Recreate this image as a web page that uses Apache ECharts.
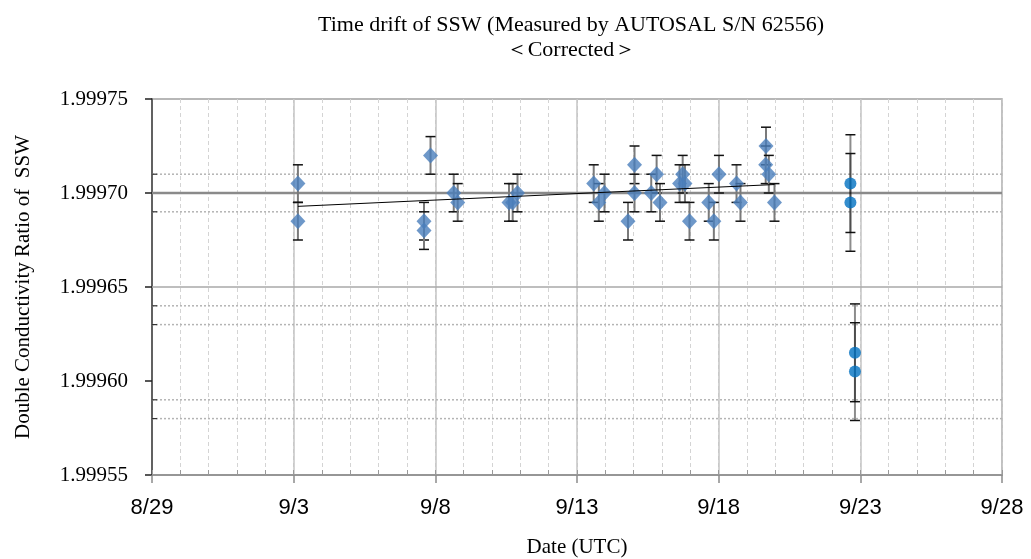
<!DOCTYPE html>
<html>
<head>
<meta charset="utf-8">
<script src="https://cdn.jsdelivr.net/npm/echarts@6/dist/echarts.min.js"></script>
<style>html,body{margin:0;padding:0;background:#fff;}#chart{width:1031px;height:559px;}</style>
</head>
<body>
<div id="chart"></div>
<script>
// x = days since 8/29 00:00 (UTC)
const xTickLabels = ['8/29', '9/3', '9/8', '9/13', '9/18', '9/23', '9/28'];
const yTickMin = 1.99955, yTickMax = 1.99975, yTickStep = 0.00005;

// Diamond series (measured SSW)
const diamondX = [5.15, 5.15, 9.60, 9.60, 9.83, 10.65, 10.79, 12.60, 12.73, 12.90,
  15.59, 15.77, 15.97, 16.80, 17.03, 17.03, 17.62, 17.81, 17.93, 18.62,
  18.73, 18.81, 18.97, 19.65, 19.83, 20.01, 20.63, 20.77, 21.67, 21.66, 21.77, 21.97];
const diamondY = [1.999705, 1.999685, 1.999685, 1.999680, 1.999720, 1.999700, 1.999695, 1.999695, 1.999695, 1.999700,
  1.999705, 1.999695, 1.999700, 1.999685, 1.999715, 1.999700, 1.999700, 1.999710, 1.999695, 1.999705,
  1.999710, 1.999705, 1.999685, 1.999695, 1.999685, 1.999710, 1.999705, 1.999695, 1.999725, 1.999715, 1.999710, 1.999695];
const diamondErr = 0.00001;

// Circle series
const circleX = [24.65, 24.65, 24.81, 24.81];
const circleY = [1.999705, 1.999695, 1.999615, 1.999605];
const circleErr = 0.000026;

// Linear trend of the diamond series (end points)
const trendX = [5.15, 21.97];
const trendY = [1.9996929, 1.9997045];

// Horizontal reference lines
const mainRefLine = [1.99970];
const solidRefLines = [1.99965];
const dottedRefLines = [1.99971, 1.99969, 1.99964, 1.99963, 1.99959, 1.99958];

const serif = '"Liberation Serif", "Times New Roman", serif';
const sans = '"Liberation Sans", Arial, sans-serif';

function makeErrRender(lineColor, lineWidth) {
  return function (params, api) {
    const x = api.value(0), y = api.value(1), e = api.value(2);
    const t = api.coord([x, y + e]);
    const b = api.coord([x, y - e]);
    const hw = 5;
    return {
      type: 'group',
      children: [
        { type: 'line', shape: { x1: t[0], y1: t[1], x2: b[0], y2: b[1] }, style: { stroke: lineColor, lineWidth: lineWidth } },
        { type: 'line', shape: { x1: t[0] - hw, y1: t[1], x2: t[0] + hw, y2: t[1] }, style: { stroke: '#111', lineWidth: 1.5 } },
        { type: 'line', shape: { x1: b[0] - hw, y1: b[1], x2: b[0] + hw, y2: b[1] }, style: { stroke: '#111', lineWidth: 1.5 } }
      ]
    };
  };
}

function makeHLineRender(style, tick) {
  return function (params, api) {
    const p = api.coord([0, api.value(1)]);
    const cs = params.coordSys;
    const children = [
      { type: 'line', shape: { x1: cs.x, y1: p[1], x2: cs.x + cs.width, y2: p[1] }, style: style }
    ];
    if (tick) {
      children.push({ type: 'line', shape: { x1: cs.x, y1: p[1], x2: cs.x + 5, y2: p[1] }, style: { stroke: '#333', lineWidth: 1.2 } });
    }
    return { type: 'group', children: children };
  };
}

const chart = echarts.init(document.getElementById('chart'), null, { renderer: 'canvas' });

chart.setOption({
  animation: false,
  backgroundColor: '#fff',
  grid: { left: 152, right: 29, top: 99, bottom: 84, show: true, borderColor: '#a0a0a0', borderWidth: 1.5,
    backgroundColor: 'transparent', containLabel: false, outerBoundsMode: 'none' },
  graphic: [
    { type: 'text', x: 571, y: 25, style: { text: 'Time drift of SSW (Measured by AUTOSAL S/N 62556)', font: '22px ' + serif, fill: '#000', textAlign: 'center', textVerticalAlign: 'middle' } },
    { type: 'text', x: 571, y: 50, style: { text: '＜Corrected＞', font: '22px ' + serif, fill: '#000', textAlign: 'center', textVerticalAlign: 'middle' } }
  ],
  xAxis: [
    {
      type: 'value', min: 0, max: 30, interval: 1,
      axisLine: { show: true, lineStyle: { color: '#8c8c8c', width: 1.5 } },
      axisTick: { show: true, inside: true, length: 5, lineStyle: { color: '#999' } },
      axisLabel: { show: false },
      splitLine: { show: true, lineStyle: { color: '#d4d4d4', type: [4, 3], width: 1 } }
    },
    {
      type: 'value', min: 0, max: 30, interval: 5, position: 'bottom',
      axisLine: { show: false },
      axisTick: { show: true, inside: false, length: 8, lineStyle: { color: '#8c8c8c', width: 1.5 } },
      axisLabel: { show: true, margin: 22, color: '#000', fontFamily: sans, fontSize: 22,
        formatter: v => xTickLabels[Math.round(v / 5)] },
      splitLine: { show: true, lineStyle: { color: '#c4c4c4', width: 1.5 } },
      name: 'Date (UTC)', nameLocation: 'middle', nameGap: 62,
      nameTextStyle: { fontFamily: serif, fontSize: 21, color: '#000' }
    }
  ],
  yAxis: {
    type: 'value', min: yTickMin, max: yTickMax, interval: yTickStep,
    axisLine: { show: true, lineStyle: { color: '#404040', width: 1.5 } },
    axisTick: { show: true, inside: false, length: 7, lineStyle: { color: '#202020', width: 1.5 } },
    axisLabel: { margin: 24, color: '#000', fontFamily: serif, fontSize: 21, formatter: v => v.toFixed(5) },
    splitLine: { show: false },
    name: 'Double Conductivity Ratio of  SSW', nameLocation: 'middle', nameGap: 118,
    nameTextStyle: { fontFamily: serif, fontSize: 21, color: '#000' }
  },
  series: [
    {
      type: 'custom', xAxisIndex: 0, renderItem: makeHLineRender({ stroke: '#b4b4b4', lineWidth: 1.5, lineDash: [2, 2] }, true),
      encode: { x: 0, y: 1 }, data: dottedRefLines.map(v => [0, v]), z: 1, silent: true
    },
    {
      type: 'custom', xAxisIndex: 0, renderItem: makeHLineRender({ stroke: '#a8a8a8', lineWidth: 1.5 }, false),
      encode: { x: 0, y: 1 }, data: solidRefLines.map(v => [0, v]), z: 1, silent: true
    },
    {
      type: 'custom', xAxisIndex: 0, renderItem: makeHLineRender({ stroke: '#8a8a8a', lineWidth: 2.5 }, false),
      encode: { x: 0, y: 1 }, data: mainRefLine.map(v => [0, v]), z: 1, silent: true
    },
    {
      type: 'custom', xAxisIndex: 0, renderItem: makeErrRender('#7a7a7a', 2), encode: { x: 0, y: 1 },
      data: diamondX.map((x, i) => [x, diamondY[i], diamondErr]), z: 3, clip: false
    },
    {
      type: 'custom', xAxisIndex: 0, renderItem: makeErrRender('rgba(0,0,0,0.45)', 2), encode: { x: 0, y: 1 },
      data: circleX.map((x, i) => [x, circleY[i], circleErr]), z: 3, clip: false
    },
    {
      type: 'scatter', xAxisIndex: 0, symbol: 'diamond', symbolSize: [15, 16],
      itemStyle: { color: '#4A7EBB' }, z: 5,
      data: diamondX.map((x, i) => [x, diamondY[i]])
    },
    {
      type: 'scatter', xAxisIndex: 0, symbol: 'circle', symbolSize: 12,
      itemStyle: { color: '#0070C0' }, z: 5,
      data: circleX.map((x, i) => [x, circleY[i]])
    },
    {
      type: 'line', xAxisIndex: 0, showSymbol: false, symbol: 'none', z: 6,
      lineStyle: { color: '#000', width: 1 },
      data: trendX.map((x, i) => [x, trendY[i]])
    }
  ]
});
</script>
</body>
</html>
